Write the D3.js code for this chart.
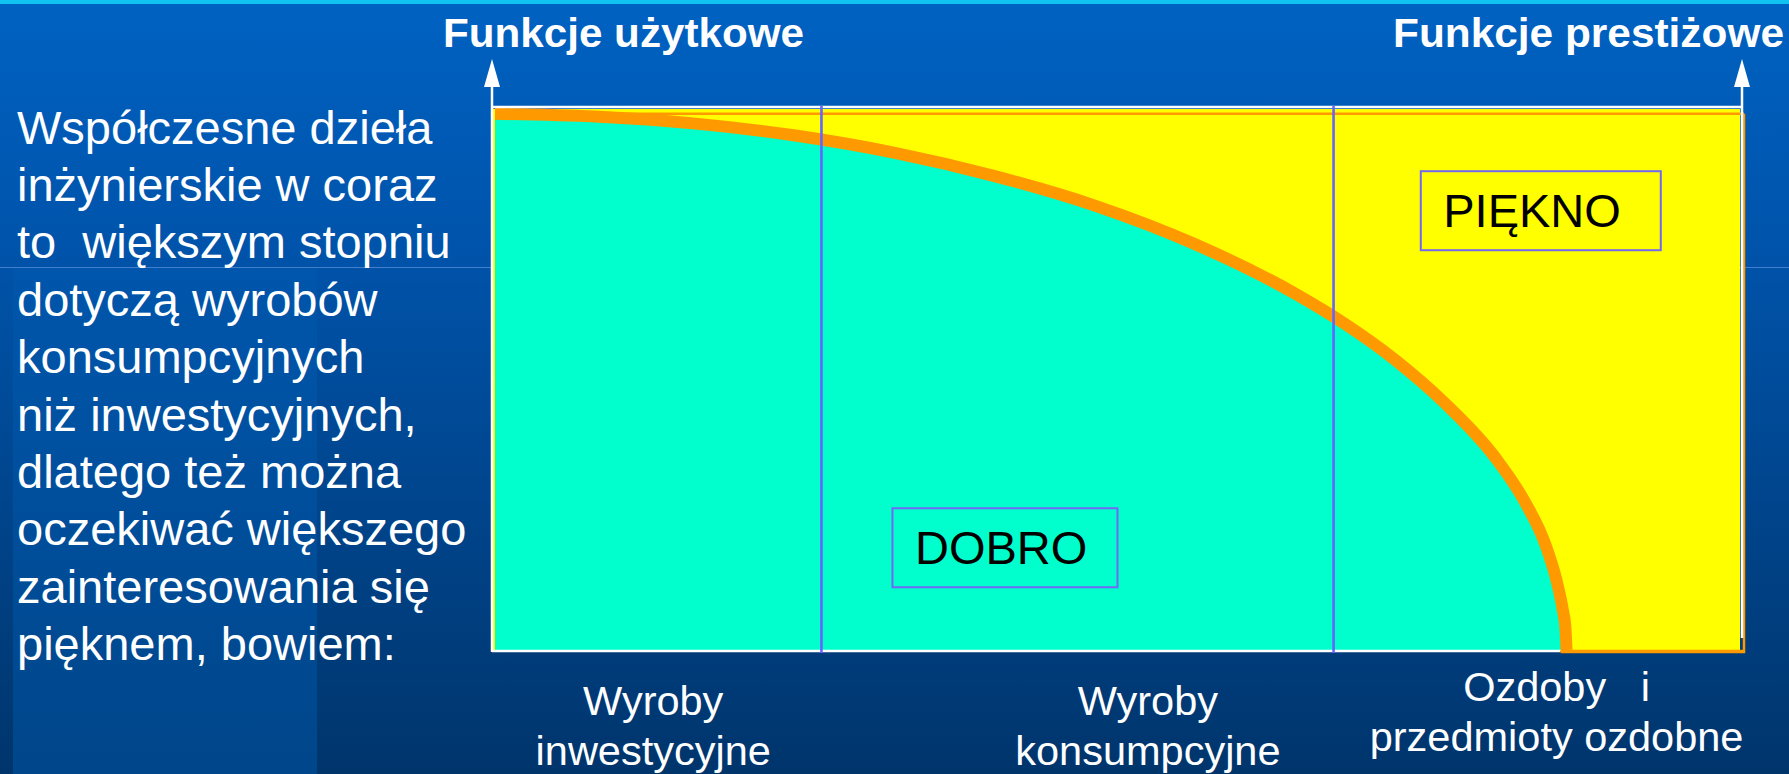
<!DOCTYPE html>
<html><head><meta charset="utf-8">
<script src="https://cdn.jsdelivr.net/npm/d3@7"></script>
<style>html,body{margin:0;padding:0;background:#004c98;overflow:hidden}</style>
</head><body><svg id="chart" width="1789" height="774"></svg>
<script>
// ---- data (chart units: x 0..100 across, y 0..100 up) ----
const curveX = [0, 8.0, 16.1, 24.1, 32.1, 40.1, 48.2, 56.2, 64.2, 68.2, 72.2, 76.2, 80.3, 82.7, 84.3, 85.2, 85.7, 85.9, 86.0];
const curveY = [99.1, 98.6, 97.3, 95.1, 91.9, 87.6, 82.1, 75.0, 65.9, 60.3, 53.7, 45.7, 35.5, 27.2, 19.5, 12.8, 7.4, 4.3, 0];
const dividerX = [26.2, 67.3];
const categoryLines = [["Wyroby", "inwestycyjne"], ["Wyroby", "konsumpcyjne"], ["Ozdoby   i", "przedmioty ozdobne"]];
const categoryAt = [12.7, 52.4, 85.2];
const regionNames = ["DOBRO", "PIĘKNO"];
const regionAt = [[31.9, 26.2], [74.3, 88.5]];
const axisTitles = ["Funkcje użytkowe", "Funkcje prestiżowe"];
const bodyLines = ["Współczesne dzieła", "inżynierskie w coraz", "to  większym stopniu", "dotyczą wyrobów",
  "konsumpcyjnych", "niż inwestycyjnych,", "dlatego też można", "oczekiwać większego",
  "zainteresowania się", "pięknem, bowiem:"];

// ---- layout ----
const W = 1789, H = 774;
const FONT = "'Liberation Sans', Arial, Helvetica, sans-serif";
const svg = d3.select("#chart");
const x = d3.scaleLinear().domain([0, 100]).range([495, 1741]);
const y = d3.scaleLinear().domain([0, 100]).range([650, 109]);

const defs = svg.append("defs");
const g1 = defs.append("linearGradient").attr("id", "bg").attr("x1", 0).attr("y1", 0).attr("x2", 0).attr("y2", 1);
g1.append("stop").attr("offset", 0).attr("stop-color", "#0062c2");
g1.append("stop").attr("offset", 0.35).attr("stop-color", "#0052a8");
g1.append("stop").attr("offset", 1).attr("stop-color", "#00356c");
const g2 = defs.append("linearGradient").attr("id", "col").attr("x1", 0).attr("y1", 0).attr("x2", 0).attr("y2", 1);
g2.append("stop").attr("offset", 0).attr("stop-color", "#0056ac");
g2.append("stop").attr("offset", 1).attr("stop-color", "#00468a");

svg.append("rect").attr("width", W).attr("height", H).attr("fill", "url(#bg)");
svg.append("rect").attr("x", 13).attr("y", 267).attr("width", 304).attr("height", H - 267).attr("fill", "url(#col)");
svg.append("line").attr("x1", 0).attr("x2", W).attr("y1", 267.5).attr("y2", 267.5)
  .attr("stroke", "#3f7fcc").attr("stroke-width", 1);
svg.append("rect").attr("width", W).attr("height", 4).attr("fill", "#12c3f2");

// plot background (yellow)
svg.append("rect").attr("x", x(0) - 2).attr("y", y(100)).attr("width", x(100) - x(0) + 1)
  .attr("height", y(0) - y(100) + 1).attr("fill", "#ffff00");
// thin orange top line and right border
svg.append("line").attr("x1", x(0)).attr("x2", x(100) + 3).attr("y1", y(99.1)).attr("y2", y(99.1))
  .attr("stroke", "#ff9900").attr("stroke-width", 2.5);
svg.append("line").attr("x1", x(100) + 3).attr("x2", x(100) + 3).attr("y1", y(99.1)).attr("y2", y(0) + 3)
  .attr("stroke", "#ff9900").attr("stroke-width", 2.5);

const pts = curveX.map((v, i) => [v, curveY[i]]);
const area = d3.area().x(d => x(d[0])).y0(y(0)).y1(d => y(d[1])).curve(d3.curveMonotoneX);
svg.append("path").datum(pts).attr("d", area).attr("fill", "#00ffcc");
const line = d3.line().x(d => x(d[0])).y(d => y(d[1])).curve(d3.curveMonotoneX);
svg.append("path").datum(pts).attr("d", line).attr("fill", "none")
  .attr("stroke", "#ff9900").attr("stroke-width", 12);

// frame (white) and bottom orange segment
svg.append("line").attr("x1", x(0) - 3).attr("x2", x(curveX[curveX.length - 1]) - 6).attr("y1", y(0) + 1).attr("y2", y(0) + 1)
  .attr("stroke", "#ffffff").attr("stroke-width", 2.5);
svg.append("line").attr("x1", x(curveX[curveX.length - 1]) - 6).attr("x2", x(100) + 4).attr("y1", y(0) + 1.5).attr("y2", y(0) + 1.5)
  .attr("stroke", "#ff9900").attr("stroke-width", 3.5);
svg.append("line").attr("x1", x(0) - 3).attr("x2", x(100) + 1).attr("y1", y(100) - 2).attr("y2", y(100) - 2)
  .attr("stroke", "#ffffff").attr("stroke-width", 2.5);

// axes arrows
[[x(0) - 3, y(0) + 2], [x(100) + 1, y(0) - 12]].forEach(([ax, yb]) => {
  svg.append("line").attr("x1", ax).attr("x2", ax).attr("y1", 84).attr("y2", yb)
    .attr("stroke", "#ffffff").attr("stroke-width", 2.5);
  svg.append("path").attr("d", `M${ax},59 L${ax - 8},87 L${ax + 8},87 Z`).attr("fill", "#ffffff");
});

// dividers
svg.selectAll("line.div").data(dividerX).join("line").attr("class", "div")
  .attr("x1", d => x(d)).attr("x2", d => x(d)).attr("y1", y(100) - 3).attr("y2", y(0) + 3)
  .attr("stroke", "#6464ff").attr("stroke-width", 2.6);

// region boxes
const boxW = [225, 240], boxH = 79;
regionNames.forEach((name, i) => {
  const bx = x(regionAt[i][0]), by = y(regionAt[i][1]);
  svg.append("rect").attr("x", bx).attr("y", by).attr("width", boxW[i]).attr("height", boxH)
    .attr("fill", "none").attr("stroke", "#7268f4").attr("stroke-width", 2);
  svg.append("text").attr("x", bx + 22.5).attr("y", by + 55.5).text(name)
    .attr("font-family", FONT).attr("font-size", 47).attr("fill", "#000000");
});

// axis titles
svg.append("text").attr("x", 443).attr("y", 47).text(axisTitles[0])
  .attr("font-family", FONT).attr("font-weight", "bold").attr("font-size", 40).attr("fill", "#fff")
  .attr("textLength", 361).attr("lengthAdjust", "spacingAndGlyphs");
svg.append("text").attr("x", 1393).attr("y", 47).text(axisTitles[1])
  .attr("font-family", FONT).attr("font-weight", "bold").attr("font-size", 40).attr("fill", "#fff")
  .attr("textLength", 391).attr("lengthAdjust", "spacingAndGlyphs");

// category labels
const catBase = [715, 715, 701];
categoryLines.forEach((lines, i) => {
  lines.forEach((t, j) => {
    svg.append("text").attr("x", x(categoryAt[i])).attr("y", catBase[i] + j * 50).text(t)
      .attr("text-anchor", "middle").style("white-space", "pre")
      .attr("font-family", FONT).attr("font-size", 41.5).attr("fill", "#fff");
  });
});

// body text
svg.selectAll("text.body").data(bodyLines).join("text").attr("class", "body")
  .attr("x", 17).attr("y", (d, i) => 143.6 + i * 57.4).text(d => d)
  .style("white-space", "pre")
  .attr("font-family", FONT).attr("font-size", 47).attr("fill", "#fff");
</script>
</body></html>
